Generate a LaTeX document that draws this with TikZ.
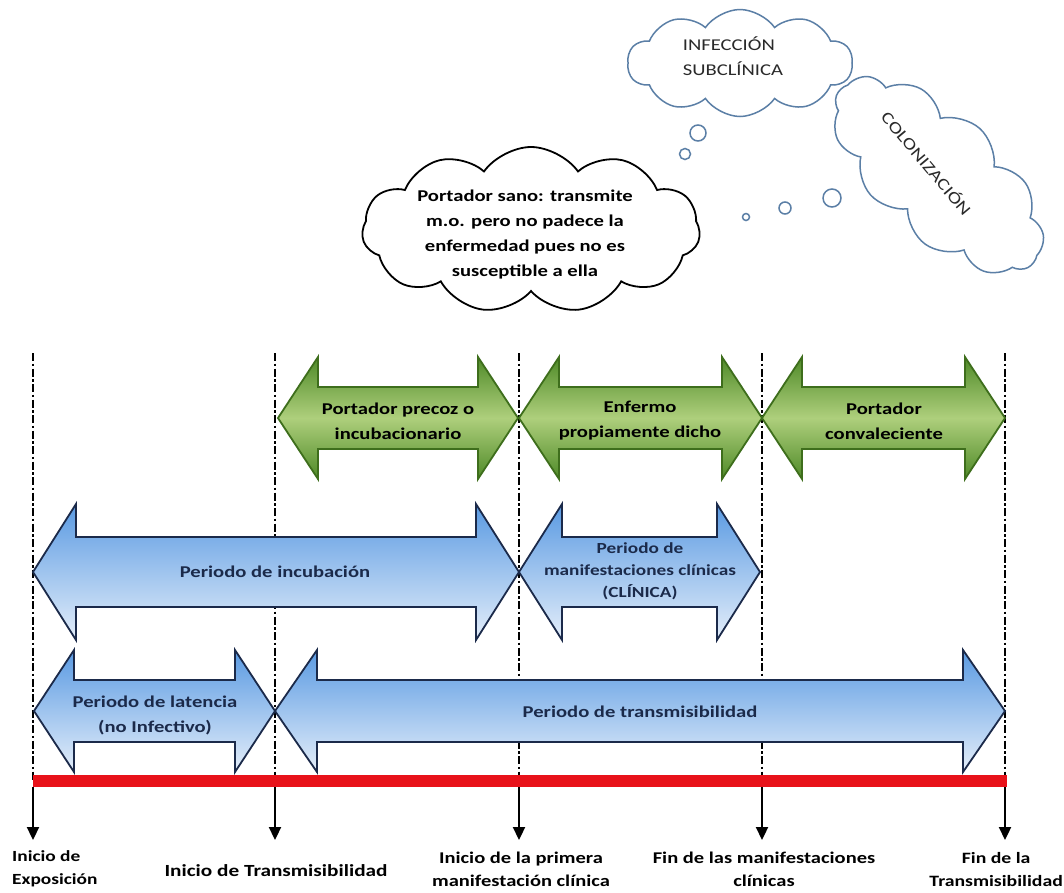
\documentclass[tikz,border=0pt]{standalone}
\usepackage{fontspec}
\setmainfont{Carlito}[FakeStretch=1.25]
\newfontfamily\bw{Carlito Bold}[FakeStretch=1.25]
\usetikzlibrary{shapes.symbols,arrows.meta,calc}
\definecolor{navy}{HTML}{1B2A4A}
\definecolor{blueT}{HTML}{5A9AE2}
\definecolor{blueB}{HTML}{E4EEFA}
\definecolor{grnEdge}{HTML}{3E6E1C}
\definecolor{grnT}{HTML}{4F8A28}
\definecolor{grnM}{HTML}{AECF7C}
\definecolor{cloudline}{HTML}{5B7FA6}
\definecolor{barred}{HTML}{E8121A}
\definecolor{txtgrey}{HTML}{2A2A2A}
% style, x1, x2, centre y, head half-height, body half-height, head length
\newcommand\dblarr[7]{%
  \path[#1] (#2,#4) -- ({#2+#7},{#4-#5}) -- ({#2+#7},{#4-#6}) -- ({#3-#7},{#4-#6})
    -- ({#3-#7},{#4-#5}) -- (#3,#4) -- ({#3-#7},{#4+#5}) -- ({#3-#7},{#4+#6})
    -- ({#2+#7},{#4+#6}) -- ({#2+#7},{#4+#5}) -- cycle;}
\tikzset{
  vline/.style={draw=black, line width=2.2pt, dash pattern=on 8pt off 2.5pt on 2.5pt off 2.5pt},
  downarr/.style={draw=black, line width=2.2pt, -{Triangle[width=12pt,length=13pt]}},
  bluearr/.style={draw=navy, line width=1.8pt, top color=blueT, bottom color=blueB},
  greenarr/.style={draw=grnEdge, line width=1.8pt, top color=grnT, bottom color=grnT, middle color=grnM},
  gtext/.style={align=center, text=black, inner sep=0pt, font=\bw\fontsize{16.5}{25}\selectfont},
  btext/.style={align=center, text=navy, inner sep=0pt, font=\bw\fontsize{16.5}{25}\selectfont},
  labtext/.style={align=center, text=black, inner sep=0pt, font=\bw\fontsize{16.4}{23}\selectfont},
  cloudbox/.style={cloud, cloud ignores aspect, fill=white, inner sep=0pt},
  bubble/.style={draw=cloudline, line width=1.5pt, fill=white},
  cloudtext/.style={align=left, text=txtgrey, inner sep=0pt, font=\fontsize{16.5}{25}\selectfont}
}
\begin{document}
\begin{tikzpicture}[x=1pt,y=-1pt]
\useasboundingbox (0,0) rectangle (1064,892);
\fill[white] (0,0) rectangle (1064,892);

% clouds
\node[cloudbox, cloud puffs=10, cloud puff arc=110, draw=cloudline, line width=1.5pt,
      minimum width=225pt, minimum height=107pt] (infcloud) at (740,63) {};
\node[cloudtext] (inftxt) at (733,56) {INFECCIÓN\\SUBCLÍNICA};
\node[cloudbox, cloud puffs=11, cloud puff arc=110, draw=cloudline, line width=1.5pt,
      minimum width=260pt, minimum height=125pt, rotate=-42] (colcloud) at (938,175) {};
\node[cloudtext, rotate=-50] (coltxt) at (927,163) {COLONIZACIÓN};
\node[cloudbox, cloud puffs=11, cloud puff arc=110, draw=black, line width=1.8pt,
      minimum width=338pt, minimum height=166pt] (sanocloud) at (531,230) {};
\node[gtext] (sanotxt) at (525,235) {Portador sano: transmite\\m.o. pero no padece la\\enfermedad pues no es\\susceptible a ella};

% thought bubbles
\path[bubble] (698,133) circle[radius=8pt];
\path[bubble] (685,154) circle[radius=5.5pt];
\path[bubble] (746,217) circle[radius=3.5pt];
\path[bubble] (785,208) circle[radius=6pt];
\path[bubble] (832,198) circle[radius=9pt];

% vertical time marks
\foreach \n/\x in {1/33,2/275,3/519,4/762,5/1005} {
  \coordinate (top\n) at (\x,353);
  \coordinate (bar\n) at (\x,781);
  \coordinate (barb\n) at (\x,787);
  \coordinate (tip\n) at (\x,840);
}
\foreach \n in {1,...,5} \draw[vline] (top\n) -- (bar\n);

% green arrows
\dblarr{greenarr}{278}{518}{418}{61}{31}{40}
\dblarr{greenarr}{519}{762}{418}{61}{31}{40}
\dblarr{greenarr}{762}{1005}{418}{61}{31}{40}
\node[gtext] (g1) at (398,421) {Portador precoz o\\incubacionario};
\node[gtext] (g2) at (640,421) {Enfermo\\propiamente dicho};
\node[gtext] (g3) at (884,421) {Portador\\convaleciente};

% blue arrows
\dblarr{bluearr}{33}{519}{572}{68}{35}{43}
\dblarr{bluearr}{519}{760}{572}{68}{35}{43}
\dblarr{bluearr}{34}{275}{711}{61}{31}{40}
\dblarr{bluearr}{275}{1005}{711}{61}{31}{42}
\node[btext] (incub) at (275,572) {Periodo de incubación};
\node[btext, font=\bw\fontsize{15.4}{22}\selectfont] (clin) at (640,571) {Periodo de\\manifestaciones clínicas\\(CLÍNICA)};
\node[btext] (lat) at (155,715) {Periodo de latencia\\(no Infectivo)};
\node[btext] (trans) at (640,712) {Periodo de transmisibilidad};

% red time line
\fill[barred] (33,775) rectangle (1007,787);
\foreach \n in {1,...,5} \draw[downarr] (barb\n) -- (tip\n);

% labels
\node[labtext, font=\bw\fontsize{15.5}{23}\selectfont, align=left, anchor=west] (lab1) at (12,869) {Inicio de\\Exposición};
\node[labtext, font=\bw\fontsize{17}{23}\selectfont] (lab2) at (276,871) {Inicio de Transmisibilidad};
\node[labtext] (lab3) at (521,869) {Inicio de la primera\\manifestación clínica};
\node[labtext] (lab4) at (764,869) {Fin de las manifestaciones\\clínicas};
\node[labtext, font=\bw\fontsize{15.8}{23}\selectfont, anchor=east] (lab5) at (1063,869) {Fin de la\\Transmisibilidad};
\end{tikzpicture}
\end{document}
